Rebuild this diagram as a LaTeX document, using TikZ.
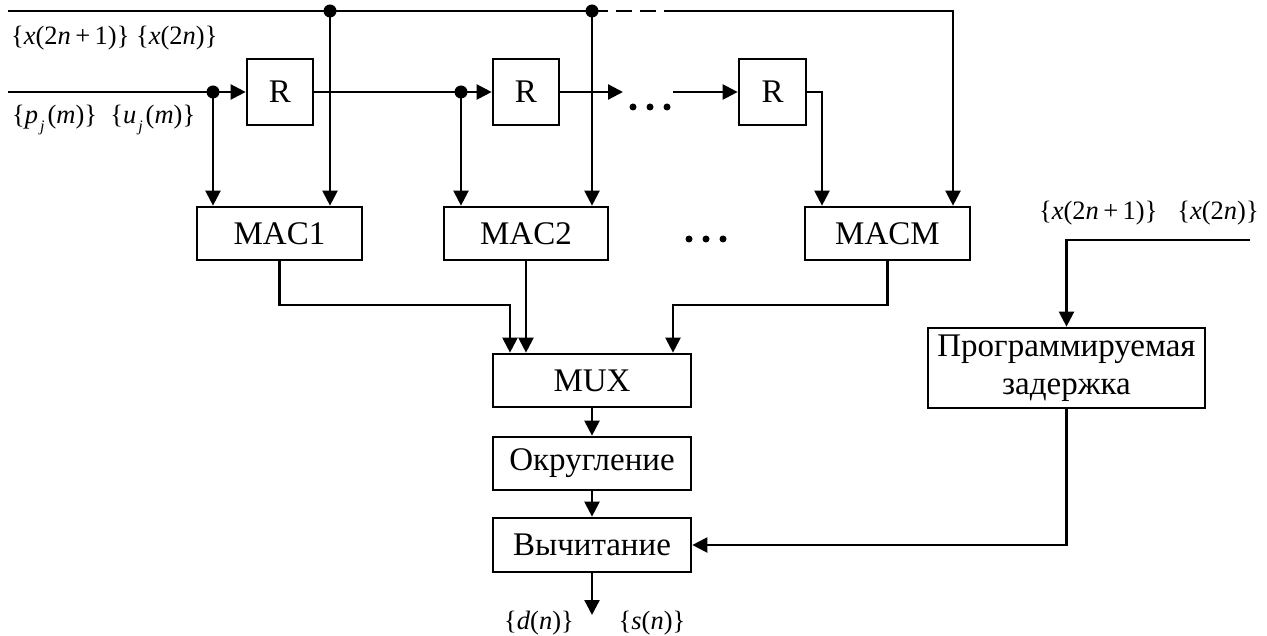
\documentclass[tikz,border=0pt]{standalone}
\usepackage{fontspec}
\setmainfont{Liberation Serif}
\usetikzlibrary{arrows.meta}
\newcommand{\mysb}[1]{\kern2pt\raisebox{-0.3em}{\fontsize{16}{16}\selectfont\textit{#1}}\kern3pt}
\begin{document}
\begin{tikzpicture}[x=1pt,y=-1pt,
  line width=2.3pt,
  box/.style={draw,line width=2.7pt,inner sep=0pt,font=\fontsize{33}{38}\selectfont,align=center},
  arr/.style={-{Triangle[length=15pt,width=15pt]}},
  lbl/.style={inner sep=0pt,font=\fontsize{26.5}{29}\selectfont},
  dotm/.style={circle,fill,inner sep=0pt,minimum size=13pt}
]
\useasboundingbox (0,0) rectangle (1267,636);

% register boxes
\node[box,minimum width=66,minimum height=66] (r1) at (280,92) {R};
\node[box,minimum width=66,minimum height=66] (r2) at (526,92) {R};
\node[box,minimum width=67,minimum height=66] (r3) at (772.5,92) {R};
% MAC boxes
\node[box,minimum width=165,minimum height=53] (mac1) at (279.5,233.5) {MAC1};
\node[box,minimum width=164,minimum height=53] (mac2) at (526,233.5) {MAC2};
\node[box,minimum width=165,minimum height=53] (macm) at (887.5,233.5) {MACM};
% chain
\node[box,minimum width=198,minimum height=53] (mux) at (592,380.5) {MUX};
\node[box,minimum width=198,minimum height=53] (okr) at (592,463.5) {Округление};
\node[box,minimum width=198,minimum height=54] (vych) at (592,545) {Вычитание};
\node[box,minimum width=277,minimum height=80] (delay) at (1066.5,368) {Программируемая\\задержка};

% coordinates
\coordinate (t0) at (8,11);
\coordinate (d1) at (330,11);
\coordinate (d2) at (592,11);
\coordinate (dashend) at (680,11);
\coordinate (tend) at (953,11);
\coordinate (s0) at (8,92);
\coordinate (sd1) at (213,92);
\coordinate (sd2) at (461,92);
\coordinate (a1) at (623,92);
\coordinate (a2) at (673,92);
\coordinate (r3c) at (822,92);
\coordinate (m1c) at (510,305);
\coordinate (mmc) at (673,305);
\coordinate (out) at (592,615);
\coordinate (rin) at (1250,240);
\coordinate (rc) at (1066.5,240);

% top bus
\draw (t0) -- (d2);
\draw[dash pattern=on 16pt off 8pt] (d2) -- (dashend);
\draw[arr] (dashend) -- (tend) -- (tend |- macm.north);
\draw[arr] (d1) -- (d1 |- mac1.north);
\draw[arr] (d2) -- (d2 |- mac2.north);

% second line
\draw[arr] (s0) -- (r1.west);
\draw[arr] (sd1) -- (sd1 |- mac1.north);
\draw[arr] (r1.east) -- (r2.west);
\draw[arr] (sd2) -- (sd2 |- mac2.north);
\draw[arr] (r2.east) -- (a1);
\draw[arr] (a2) -- (r3.west);
\draw[arr] (r3.east) -- (r3c) -- (r3c |- macm.north);

% junction dots
\node[dotm] (j1) at (d1) {};
\node[dotm] (j2) at (d2) {};
\node[dotm] (j3) at (sd1) {};
\node[dotm] (j4) at (sd2) {};

% ellipses
\foreach \xx in {633,650,667} \fill (\xx,107) circle (3.5pt);
\foreach \xx in {689,706,723} \fill (\xx,239) circle (3.5pt);

% to MUX
\draw[arr] (mac1.south) |- (m1c) -- (m1c |- mux.north);
\draw[arr] (mac2.south) -- (mac2.south |- mux.north);
\draw[arr] (macm.south) |- (mmc) -- (mmc |- mux.north);
\draw[arr] (mux) -- (okr);
\draw[arr] (okr) -- (vych);
\draw[arr] (vych.south) -- (out);

% right branch
\draw[arr] (rin) -- (rc) -- (delay.north);
\draw[arr] (delay.south) |- (vych.east);

% labels
\node[lbl,anchor=west] (l1) at (10,38) {\{\textit{x}(2\textit{n}\,+\,1)\}\ \{\textit{x}(2\textit{n})\}};
\node[lbl,anchor=west] (l2) at (11,120) {\{\textit{p}\mysb{j}(\textit{m})\}\ \ \{\textit{u}\mysb{j}(\textit{m})\}};
\node[lbl,anchor=west] (l3) at (1038,213) {\{\textit{x}(2\textit{n}\,+\,1)\}\ \ \ \{\textit{x}(2\textit{n})\}};
\node[lbl] (l4) at (539,623) {\{\textit{d}(\textit{n})\}};
\node[lbl] (l5) at (652,623) {\{\textit{s}(\textit{n})\}};
\end{tikzpicture}
\end{document}
